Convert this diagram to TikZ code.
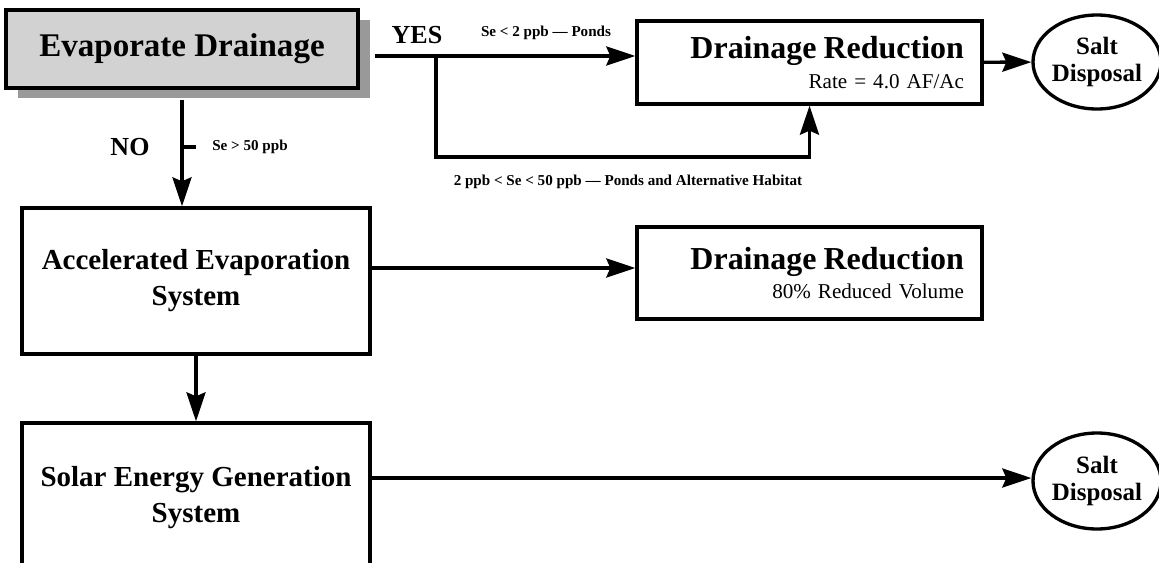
\documentclass[tikz,border=0pt]{standalone}
\usepackage{fontspec}
\setmainfont{Liberation Serif}
\usetikzlibrary{arrows.meta,shapes.geometric,shadows}

\begin{document}
\begin{tikzpicture}[
	line width=1.9pt,
	box/.style={draw, align=center, minimum width=6.96cm, minimum height=2.92cm, inner sep=0pt, font=\fontsize{16.5}{20.5}\selectfont\bfseries},
	result/.style={draw, align=right, text width=6.18cm, inner xsep=0.36cm, inner ysep=0pt, minimum height=1.66cm, font=\fontsize{12}{17}\selectfont},
	salt/.style={draw, ellipse, minimum width=2.56cm, minimum height=1.88cm, inner sep=0pt, align=center, font=\fontsize{14.2}{15.4}\selectfont\bfseries},
	answer/.style={font=\fontsize{14.8}{17}\selectfont\bfseries},
	cond/.style={font=\fontsize{8.6}{10}\selectfont\bfseries},
	arr/.style={-{Stealth[length=5.8mm, width=3.8mm, inset=0.8mm]}, line width=1.9pt}
]
\useasboundingbox (0,0) rectangle (23.18,-11.26);

% top row
\node[draw, fill=gray!35, minimum width=7.04cm, minimum height=1.56cm, inner sep=0pt,
	drop shadow={shadow xshift=0.24cm, shadow yshift=-0.2cm, fill=gray!80, opacity=1},
	font=\fontsize{18.8}{22}\selectfont\bfseries] (ED) at (3.64,-0.98) {Evaporate Drainage};
\node[answer] (YES) at (8.34,-0.70) {YES};
\node[cond] (C1) at (10.92,-0.66) {Se < 2 ppb --- Ponds};
\node[result] (DR1) at (16.19,-1.25) {{\fontsize{18.2}{20}\selectfont\bfseries Drainage Reduction}\\Rate = 4.0 AF/Ac};
\node[salt] (S1) at (21.94,-1.24) {Salt\\Disposal};

% conditions
\node[answer] (NO) at (2.6,-2.94) {NO};
\node[cond] (C2) at (5.0,-2.94) {Se > 50 ppb};
\node[cond] (C3) at (12.56,-3.64) {2 ppb < Se < 50 ppb --- Ponds and Alternative Habitat};

% lower rows
\node[box] (AE) at (3.92,-5.62) {Accelerated Evaporation\\System};
\node[result, minimum height=1.84cm] (DR2) at (16.19,-5.46) {{\fontsize{18.2}{20}\selectfont\bfseries Drainage Reduction}\\80\% Reduced Volume};
\node[box, minimum height=3cm] (SE) at (3.92,-9.96) {Solar Energy Generation\\System};
\node[salt, minimum height=1.92cm] (S2) at (21.94,-9.62) {Salt\\Disposal};

\coordinate (fork) at (8.72,-1.12);
\coordinate (low) at (8.72,-3.14);
\coordinate (tick) at (ED.south |- NO);

% arrows
\draw[arr] ([xshift=0.3cm]ED.east |- fork) -- (fork -| DR1.west);
\draw[arr] (fork) -- (low) -| (DR1.south);
\draw[arr] (DR1) -- (S1);
\draw[arr] ([yshift=-0.2cm]ED.south) -- (ED.south |- AE.north);
\draw (tick) -- ++(0.28,0);
\draw[arr] ([yshift=0.26cm]AE.east) -- ([yshift=0.26cm]AE.east -| DR2.west);
\draw[arr] (AE) -- (SE);
\draw[arr] ([yshift=0.4cm]SE.east) -- ([yshift=0.4cm]SE.east -| S2.west);
\end{tikzpicture}
\end{document}
